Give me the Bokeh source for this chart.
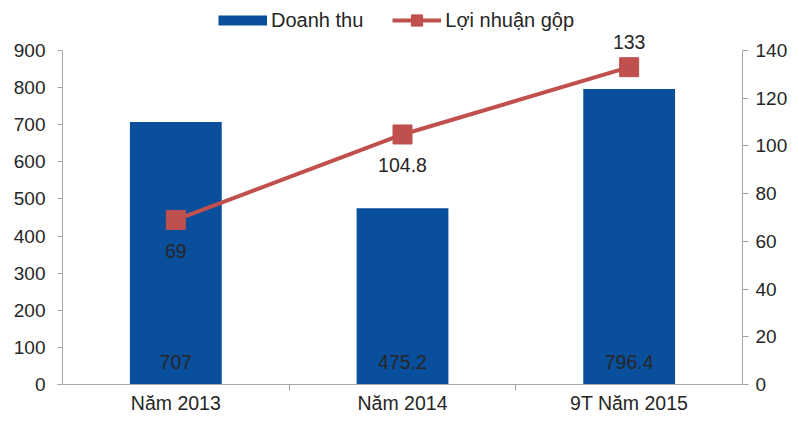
from bokeh.plotting import figure
from bokeh.models import (Range1d, LinearAxis, FixedTicker, ColumnDataSource,
                          LabelSet, Legend, LegendItem)
from bokeh.core.properties import value
from bokeh.embed import file_html
from bokeh.resources import INLINE

# ---- data ----
categories = ["Năm 2013", "Năm 2014", "9T Năm 2015"]
doanh_thu = [707, 475.2, 796.4]
loi_nhuan = [69, 104.8, 133]
doanh_thu_labels = ["707", "475.2", "796.4"]
loi_nhuan_labels = ["69", "104.8", "133"]
left_ticks = [0, 100, 200, 300, 400, 500, 600, 700, 800, 900]
right_ticks = [0, 20, 40, 60, 80, 100, 120, 140]

BLUE = "#0A4F9C"
RED = "#C0504D"
TEXT = "#262626"
AXIS = "#A6A6A6"
FONT = "Liberation Sans"

# layout (pixels)
W, H = 790, 416
B_LEFT, B_RIGHT, B_TOP, B_BOTTOM = 62, 44, 0, 32
AXIS_TOP_PX = 50            # where the top tick (900 / 140) sits
frame_h = H - B_TOP - B_BOTTOM
span_px = H - B_BOTTOM - AXIS_TOP_PX
left_max = left_ticks[-1] * frame_h / span_px
right_max = right_ticks[-1] * frame_h / span_px

xs = [i + 0.5 for i in range(len(categories))]
src = ColumnDataSource(dict(x=xs, dt=doanh_thu, ln=loi_nhuan,
                            dtl=doanh_thu_labels, lnl=loi_nhuan_labels,
                            zero=[0] * len(xs)))

p = figure(width=W, height=H, x_range=Range1d(0, len(categories)),
           y_range=Range1d(0, left_max),
           output_backend="svg", toolbar_location=None,
           min_border_left=B_LEFT, min_border_right=B_RIGHT,
           min_border_top=B_TOP, min_border_bottom=B_BOTTOM)
p.extra_y_ranges = {"right": Range1d(0, right_max)}
p.outline_line_color = None
p.xgrid.grid_line_color = None
p.ygrid.grid_line_color = None
p.background_fill_color = None
p.border_fill_color = None

bars = p.vbar(x="x", top="dt", width=0.405, source=src, fill_color=BLUE, line_color=None)
line = p.line(x="x", y="ln", source=src, y_range_name="right", line_width=4, line_color=RED)
sq = p.scatter(x="x", y="ln", source=src, y_range_name="right", marker="square",
               size=19, fill_color=RED, line_color=RED)
dummy = p.line(x=[0, 1], y=[-500, -500], line_width=10, line_color=BLUE)

# x axis
xa = p.xaxis[0]
xa.ticker = FixedTicker(ticks=xs, minor_ticks=[1, 2])
xa.major_label_overrides = {x: c for x, c in zip(xs, categories)}
xa.major_tick_out = 0
xa.major_tick_in = 0
xa.minor_tick_out = 6
xa.minor_tick_in = 0
xa.minor_tick_line_color = AXIS
xa.axis_line_color = AXIS
xa.major_label_standoff = 1
xa.major_label_text_font_size = "19.5px"

# left axis
ya = p.yaxis[0]
ya.ticker = FixedTicker(ticks=left_ticks)
ya.bounds = (left_ticks[0], left_ticks[-1])
ya.major_tick_out = 5
ya.major_tick_in = 0
ya.major_label_standoff = 12
ya.minor_tick_line_color = None

ra = LinearAxis(y_range_name="right", ticker=FixedTicker(ticks=right_ticks),
                bounds=(right_ticks[0], right_ticks[-1]))
ra.major_tick_out = 6
ra.major_tick_in = 0
ra.major_label_standoff = 7
ra.minor_tick_line_color = None
p.add_layout(ra, "right")

for ax in [ya, ra]:
    ax.axis_line_color = AXIS
    ax.major_tick_line_color = AXIS
    ax.major_label_text_font_size = "19px"
for ax in [xa, ya, ra]:
    ax.major_label_text_font = FONT
    ax.major_label_text_color = TEXT

lbl_kw = dict(text_align="center", text_baseline="middle",
              text_font=value(FONT), text_font_size=value("19.5px"),
              text_color=TEXT)
# bar value labels
p.add_layout(LabelSet(x="x", y="zero", text="dtl", source=src, y_offset=23, **lbl_kw))
# line value labels
src_below = ColumnDataSource(dict(x=xs[:2], ln=loi_nhuan[:2], lnl=loi_nhuan_labels[:2]))
src_above = ColumnDataSource(dict(x=xs[2:], ln=loi_nhuan[2:], lnl=loi_nhuan_labels[2:]))
p.add_layout(LabelSet(x="x", y="ln", text="lnl", source=src_below, y_range_name="right",
                      y_offset=-31, **lbl_kw))
p.add_layout(LabelSet(x="x", y="ln", text="lnl", source=src_above, y_range_name="right",
                      y_offset=25, **lbl_kw))

legend = Legend(items=[LegendItem(label="Doanh thu", renderers=[dummy]),
                       LegendItem(label="Lợi nhuận gộp", renderers=[line, sq])],
                orientation="horizontal", location=(156, 350),
                glyph_width=49, glyph_height=28, label_standoff=4, spacing=29,
                padding=0, margin=0, border_line_color=None,
                background_fill_alpha=0,
                label_text_font=FONT, label_text_font_size="20px",
                label_text_color=TEXT)
p.add_layout(legend, "center")

open("out.html", "w").write(file_html(p, INLINE))
